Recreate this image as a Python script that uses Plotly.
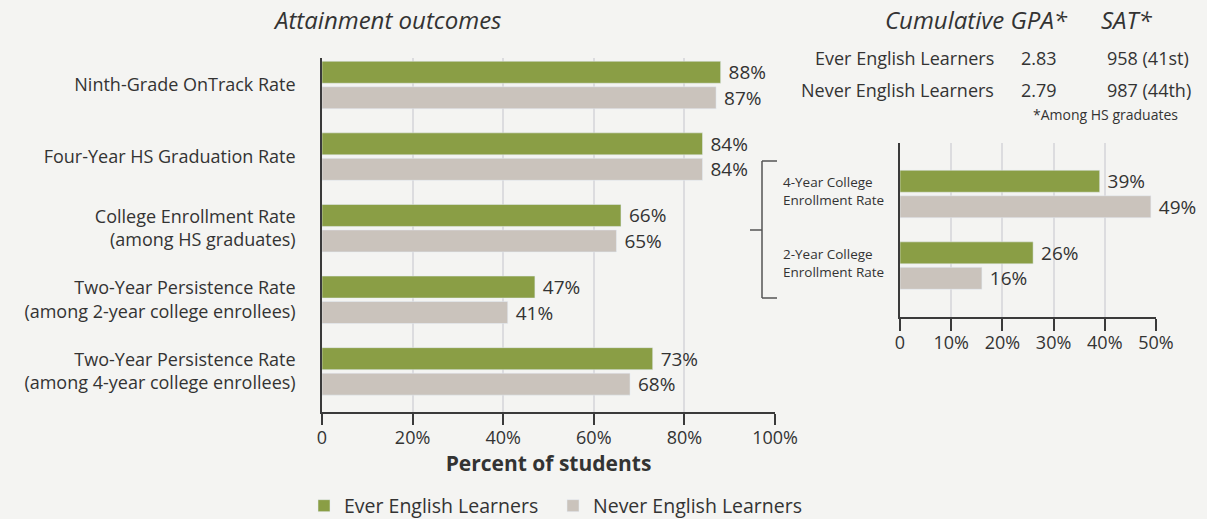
import plotly.graph_objects as go

W, H = 1207, 519
FONT = "Open Sans"
TXT = "#333333"
GREEN = "#8a9e45"
GREY = "#cac3bc"
BG = "#f4f4f2"
GRID = "#dcdcdf"
AXIS = "#3a3a3a"

# Attainment outcomes (left panel)
categories = [
    "Ninth-Grade OnTrack Rate",
    "Four-Year HS Graduation Rate",
    "College Enrollment Rate<br>(among HS graduates)",
    "Two-Year Persistence Rate<br>(among 2-year college enrollees)",
    "Two-Year Persistence Rate<br>(among 4-year college enrollees)",
]
ever_el = [88, 84, 66, 47, 73]
never_el = [87, 84, 65, 41, 68]
left_ticks = [0, 20, 40, 60, 80, 100]
left_ticktext = ["0", "20%", "40%", "60%", "80%", "100%"]

# College enrollment by type (right panel)
college_cats = ["4-Year College<br>Enrollment Rate", "2-Year College<br>Enrollment Rate"]
ever_college = [39, 26]
never_college = [49, 16]
right_ticks = [0, 10, 20, 30, 40, 50]
right_ticktext = ["0", "10%", "20%", "30%", "40%", "50%"]

# GPA / SAT table
table_rows = ["Ever English Learners", "Never English Learners"]
gpa = ["2.83", "2.79"]
sat = ["958 (41st)", "987 (44th)"]

series_names = ["Ever English Learners", "Never English Learners"]


def px(x):
    return x / W


def py(y):
    return 1 - y / H


fig = go.Figure()

bar_common = dict(
    orientation="h",
    texttemplate=" %{x}%",
    textposition="outside",
    textfont=dict(family=FONT, size=19, color=TXT),
    cliponaxis=False,
    constraintext="none",
    hoverinfo="skip",
)

fig.add_trace(go.Bar(x=ever_el, y=categories, name=series_names[0],
                     marker_color=GREEN, xaxis="x", yaxis="y", **bar_common))
fig.add_trace(go.Bar(x=never_el, y=categories, name=series_names[1],
                     marker_color=GREY, xaxis="x", yaxis="y", **bar_common))
fig.add_trace(go.Bar(x=ever_college, y=college_cats, name=series_names[0],
                     marker_color=GREEN, xaxis="x2", yaxis="y2",
                     showlegend=False, **bar_common))
fig.add_trace(go.Bar(x=never_college, y=college_cats, name=series_names[1],
                     marker_color=GREY, xaxis="x2", yaxis="y2",
                     showlegend=False, **bar_common))

tickfont = dict(family=FONT, size=18, color=TXT)

fig.update_layout(
    width=W, height=H,
    margin=dict(l=0, r=0, t=0, b=0, autoexpand=False),
    paper_bgcolor=BG, plot_bgcolor=BG,
    barmode="group", bargap=0.288, bargroupgap=0.138,
    font=dict(family=FONT, color=TXT),
    xaxis=dict(
        domain=[px(322), px(775)], range=[0, 100], anchor="y",
        tickvals=left_ticks, ticktext=left_ticktext, tickfont=tickfont,
        showgrid=True, gridcolor=GRID, gridwidth=1.5,
        showline=True, linecolor=AXIS, linewidth=1.5,
        ticks="outside", ticklen=11, tickwidth=1.5, tickcolor=AXIS,
        ticklabelstandoff=-2,
        zeroline=False, automargin=False,
        title=dict(text="<b>Percent of students</b>",
                   font=dict(family=FONT, size=21, color=TXT), standoff=4),
    ),
    yaxis=dict(
        domain=[py(412), py(58)], anchor="x",
        categoryorder="array", categoryarray=categories,
        range=[4.567, -0.377],
        tickfont=tickfont, ticks="", ticklabelstandoff=21,
        showline=True, linecolor=AXIS, linewidth=1.5,
        showgrid=False, zeroline=False, automargin=False,
    ),
    xaxis2=dict(
        domain=[px(900), px(1156)], range=[0, 50], anchor="y2",
        tickvals=right_ticks, ticktext=right_ticktext, tickfont=tickfont,
        showgrid=True, gridcolor=GRID, gridwidth=1.5,
        showline=True, linecolor=AXIS, linewidth=1.5,
        ticks="outside", ticklen=12, tickwidth=1.5, tickcolor=AXIS,
        ticklabelstandoff=-3,
        zeroline=False, automargin=False,
    ),
    yaxis2=dict(
        domain=[py(317), py(143)], anchor="x2",
        categoryorder="array", categoryarray=college_cats,
        range=[1.718, -0.712],
        showticklabels=False, ticks="",
        showline=True, linecolor=AXIS, linewidth=1.5,
        showgrid=False, zeroline=False, automargin=False,
    ),
    legend=dict(
        orientation="h", x=px(304), xanchor="left", y=py(506), yanchor="middle",
        font=dict(family=FONT, size=19.5, color=TXT),
        entrywidth=204, entrywidthmode="pixels",
        bgcolor="rgba(0,0,0,0)",
    ),
)

annotations = []

# panel titles
TITLE_FONT = dict(family=FONT, size=24, color=TXT)
annotations.append(dict(text="<i>Attainment outcomes</i>", x=px(387), y=py(19),
                        xref="paper", yref="paper", xanchor="center", yanchor="middle",
                        showarrow=False, font=TITLE_FONT))
annotations.append(dict(text="<i>Cumulative GPA*</i>", x=px(883), y=py(19),
                        xref="paper", yref="paper", xanchor="left", yanchor="middle",
                        showarrow=False, font=TITLE_FONT))
annotations.append(dict(text="<i>SAT*</i>", x=px(1099), y=py(19),
                        xref="paper", yref="paper", xanchor="left", yanchor="middle",
                        showarrow=False, font=TITLE_FONT))

# GPA / SAT table rows
ROW_FONT = dict(family=FONT, size=18, color=TXT)
for i, (name, g, s) in enumerate(zip(table_rows, gpa, sat)):
    yy = py(58 + 32 * i)
    annotations.append(dict(text=name, x=px(996), y=yy, xref="paper", yref="paper",
                            xanchor="right", yanchor="middle", showarrow=False,
                            font=ROW_FONT))
    annotations.append(dict(text=g, x=px(1019), y=yy, xref="paper", yref="paper",
                            xanchor="left", yanchor="middle", showarrow=False,
                            font=ROW_FONT))
    annotations.append(dict(text=s, x=px(1105), y=yy, xref="paper", yref="paper",
                            xanchor="left", yanchor="middle", showarrow=False,
                            font=ROW_FONT))
annotations.append(dict(text="*Among HS graduates", x=px(1180), y=py(114),
                        xref="paper", yref="paper", xanchor="right", yanchor="middle",
                        showarrow=False, font=dict(family=FONT, size=14, color=TXT)))

# right-panel category labels, left aligned beside the bracket
for c in college_cats:
    annotations.append(dict(text=c, x=px(781), xref="paper", y=c, yref="y2",
                            xanchor="left", yanchor="middle", align="left",
                            yshift=3, showarrow=False,
                            font=dict(family=FONT, size=13.5, color=TXT)))

fig.update_layout(annotations=annotations)

# bracket linking college enrollment to the breakdown panel
BR = dict(color="#555555", width=1.5)
shapes = [
    dict(type="line", xref="paper", yref="paper", x0=px(762), x1=px(762),
         y0=py(161), y1=py(298), line=BR),
    dict(type="line", xref="paper", yref="paper", x0=px(762), x1=px(777),
         y0=py(161), y1=py(161), line=BR),
    dict(type="line", xref="paper", yref="paper", x0=px(762), x1=px(777),
         y0=py(298), y1=py(298), line=BR),
    dict(type="line", xref="paper", yref="paper", x0=px(750), x1=px(762),
         y0=py(230), y1=py(230), line=BR),
]
fig.update_layout(shapes=shapes)

fig.write_html("out.html")
